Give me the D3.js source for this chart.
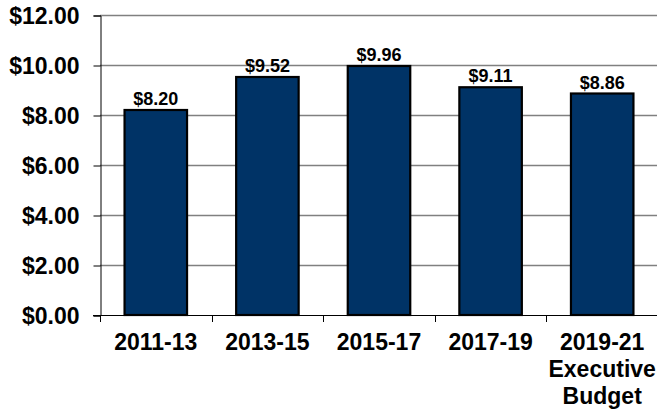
<!DOCTYPE html>
<html>
<head>
<meta charset="utf-8">
<script src="https://cdn.jsdelivr.net/npm/d3@7"></script>
<style>
  body { margin: 0; background: #fff; }
  svg text { font-family: Arial, "Liberation Sans", sans-serif; font-weight: bold; fill: #000; }
</style>
</head>
<body>
<svg id="chart"></svg>
<script>
// chart values
const categories = ['2011-13', '2013-15', '2015-17', '2017-19', '2019-21'];
const subLabels = ['', '', '', '', 'Executive\nBudget'];
const values = [8.20, 9.52, 9.96, 9.11, 8.86];
const yTicks = [0, 2, 4, 6, 8, 10, 12];

const width = 657, height = 412;
const margin = {top: 15, right: -1, bottom: 97, left: 100};

const svg = d3.select('#chart')
    .attr('width', width)
    .attr('height', height);

const innerW = width - margin.left - margin.right;
const innerH = height - margin.top - margin.bottom;

const x = d3.scaleBand()
    .domain(categories)
    .range([0, innerW])
    .paddingInner(0.44)
    .paddingOuter(0.22);

const y = d3.scaleLinear()
    .domain([0, 12])
    .range([innerH, 0]);

const chart = svg.append('g')
    .attr('transform', `translate(${margin.left},${margin.top})`);

// gridlines (skip 0, the axis line covers it)
chart.append('g')
    .selectAll('line')
    .data(yTicks.filter(d => d > 0))
    .join('line')
    .attr('x1', 0)
    .attr('x2', innerW)
    .attr('y1', d => Math.round(y(d)) + 0.5)
    .attr('y2', d => Math.round(y(d)) + 0.5)
    .attr('stroke', '#808080')
    .attr('stroke-width', 1.3);

// y axis
const yAxis = d3.axisLeft(y)
    .tickValues(yTicks)
    .tickSize(7)
    .tickPadding(14)
    .tickFormat(d => '$' + d3.format('.2f')(d));

const yAxisG = chart.append('g')
    .attr('transform', 'translate(0.5,0.5)')
    .call(yAxis);
yAxisG.select('.domain').attr('stroke', '#000');
yAxisG.selectAll('.tick line').attr('stroke', '#000');
yAxisG.selectAll('.tick text')
    .style('font-size', '23px')
    .attr('dy', '0.36em');

// bars
chart.selectAll('.bar')
    .data(values)
    .join('rect')
    .attr('class', 'bar')
    .attr('x', (d, i) => x(categories[i]))
    .attr('y', d => y(d))
    .attr('width', x.bandwidth())
    .attr('height', d => innerH - y(d))
    .attr('fill', '#003366')
    .attr('stroke', '#000')
    .attr('stroke-width', 2.2);

// value labels
chart.selectAll('.val')
    .data(values)
    .join('text')
    .attr('class', 'val')
    .attr('x', (d, i) => x(categories[i]) + x.bandwidth() / 2)
    .attr('y', d => y(d) - 5)
    .attr('text-anchor', 'middle')
    .style('font-size', '18px')
    .text(d => '$' + d3.format('.2f')(d));

// x axis line and ticks at band edges
const xAxisG = chart.append('g')
    .attr('transform', `translate(0,${innerH})`);

xAxisG.append('line')
    .attr('x1', -7)
    .attr('x2', innerW)
    .attr('y1', 0.5)
    .attr('y2', 0.5)
    .attr('stroke', '#000');

const step = x.step();
xAxisG.selectAll('.xtick')
    .data(d3.range(categories.length))
    .join('line')
    .attr('class', 'xtick')
    .attr('x1', i => Math.round(x(categories[i]) - step * 0.22) + 0.5)
    .attr('x2', i => Math.round(x(categories[i]) - step * 0.22) + 0.5)
    .attr('y1', 0)
    .attr('y2', 7)
    .attr('stroke', '#000');

// category labels
const labels = xAxisG.selectAll('.xlabel')
    .data(categories)
    .join('text')
    .attr('class', 'xlabel')
    .attr('x', d => x(d) + x.bandwidth() / 2)
    .attr('y', 35)
    .attr('text-anchor', 'middle')
    .style('font-size', '23px');

labels.each(function(d, i) {
    const t = d3.select(this);
    t.append('tspan').attr('x', x(d) + x.bandwidth() / 2).text(d);
    if (subLabels[i]) {
        subLabels[i].split('\n').forEach(line => {
            t.append('tspan')
                .attr('x', x(d) + x.bandwidth() / 2)
                .attr('dy', 27)
                .text(line);
        });
    }
});
</script>
</body>
</html>
